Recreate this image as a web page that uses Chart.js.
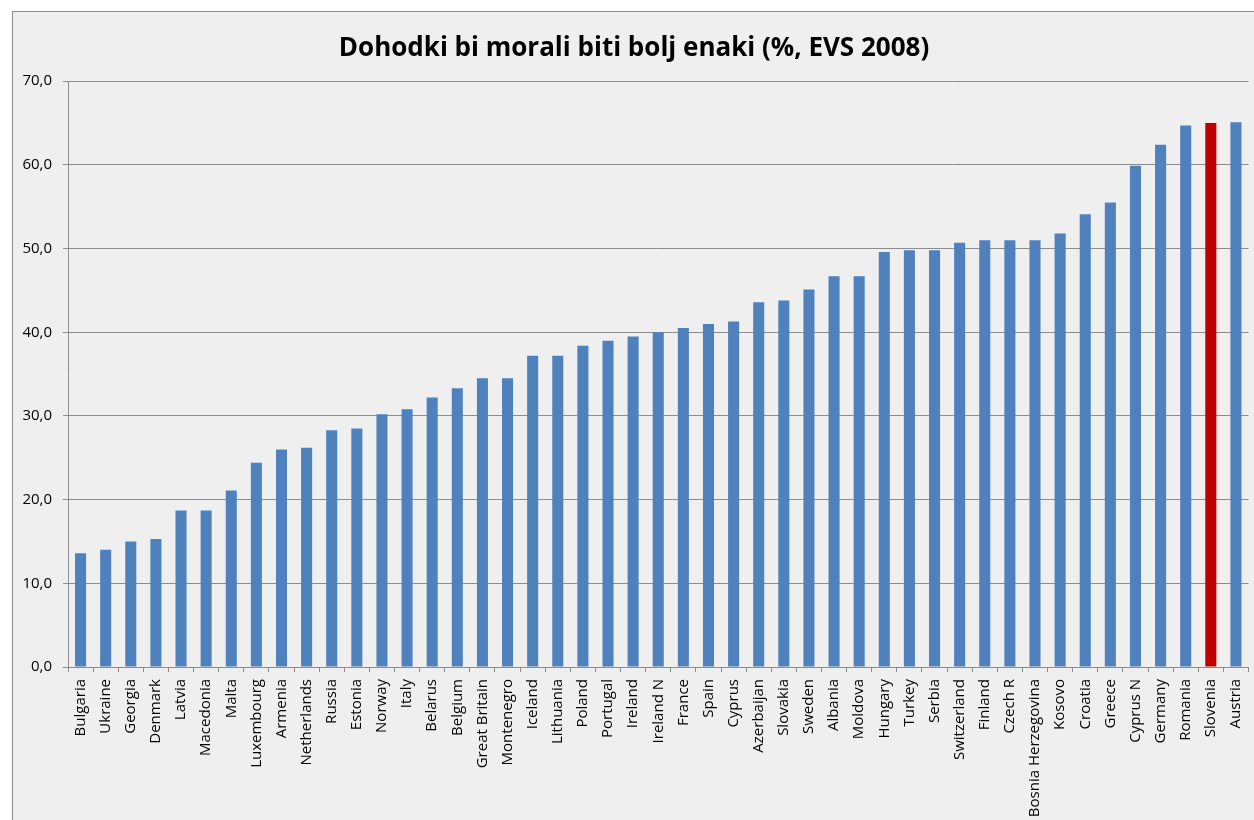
<!DOCTYPE html>
<html>
<head>
<meta charset="utf-8">
<script src="https://cdn.jsdelivr.net/npm/chart.js@4.4.0/dist/chart.umd.min.js"></script>
<style>
  html, body { margin: 0; padding: 0; background: #ffffff; overflow: hidden; }
  #frame {
    position: absolute; left: 12px; top: 11px;
    width: 1260px; height: 809px;
    background: #efefef;
    border-left: 1px solid #8c8c8c; border-top: 1px solid #8c8c8c;
  }
  #wrap { position: absolute; left: 0; top: 0; width: 1248px; height: 808px; }
</style>
</head>
<body>
<div id="frame"><div id="wrap"><canvas id="chart"></canvas></div></div>
<script>
// podatki (EVS 2008)
const countries = [
  "Bulgaria", "Ukraine", "Georgia", "Denmark", "Latvia", "Macedonia", "Malta",
  "Luxembourg", "Armenia", "Netherlands", "Russia", "Estonia", "Norway", "Italy",
  "Belarus", "Belgium", "Great Britain", "Montenegro", "Iceland", "Lithuania",
  "Poland", "Portugal", "Ireland", "Ireland N", "France", "Spain", "Cyprus",
  "Azerbaijan", "Slovakia", "Sweden", "Albania", "Moldova", "Hungary", "Turkey",
  "Serbia", "Switzerland", "Finland", "Czech R", "Bosnia Herzegovina", "Kosovo",
  "Croatia", "Greece", "Cyprus N", "Germany", "Romania", "Slovenia", "Austria"
];
const values = [
  13.6, 14.0, 15.0, 15.3, 18.7, 18.7, 21.1,
  24.4, 26.0, 26.2, 28.3, 28.5, 30.2, 30.8,
  32.2, 33.3, 34.5, 34.5, 37.2, 37.2,
  38.4, 39.0, 39.5, 40.0, 40.5, 41.0, 41.3,
  43.6, 43.8, 45.1, 46.7, 46.7, 49.6, 49.8,
  49.8, 50.7, 51.0, 51.0, 51.0, 51.8,
  54.1, 55.5, 59.9, 62.4, 64.7, 65.0, 65.1
];
const highlight = "Slovenia";
const yTicks = [0, 10, 20, 30, 40, 50, 60, 70];

const font = "'Open Sans', 'Liberation Sans', sans-serif";

const ctx = document.getElementById("chart").getContext("2d");
new Chart(ctx, {
  type: "bar",
  data: {
    labels: countries,
    datasets: [{
      data: values,
      backgroundColor: countries.map(c => c === highlight ? "#c00000" : "#4f81bd"),
      barPercentage: 0.44,
      categoryPercentage: 1.0
    }]
  },
  options: {
    responsive: true,
    maintainAspectRatio: false,
    animation: false,
    layout: { padding: { top: 9, right: 6, left: 0, bottom: 0 } },
    plugins: {
      legend: { display: false },
      tooltip: { enabled: false },
      title: {
        display: true,
        text: "Dohodki bi morali biti bolj enaki (%, EVS 2008)",
        color: "#000",
        font: { family: font, size: 26, weight: "bold", lineHeight: 1.2 },
        padding: { top: 12, bottom: 17 }
      }
    },
    scales: {
      x: {
        grid: {
          display: true,
          drawOnChartArea: false,
          drawTicks: true,
          tickLength: 5,
          color: "#8c8c8c",
          offset: true
        },
        border: { color: "#8c8c8c", width: 1 },
        ticks: {
          autoSkip: false,
          minRotation: 90,
          maxRotation: 90,
          padding: 7,
          color: "#000",
          font: { family: font, size: 15 }
        },
        afterFit: scale => { scale.height = 153; }
      },
      y: {
        min: 0,
        max: 70,
        afterBuildTicks: scale => { scale.ticks = yTicks.map(v => ({ value: v })); },
        grid: {
          color: "#8c8c8c",
          tickLength: 5,
          lineWidth: 1
        },
        border: { color: "#8c8c8c", width: 1 },
        ticks: {
          padding: 11,
          color: "#000",
          font: { family: font, size: 15 },
          callback: v => v.toFixed(1).replace(".", ",")
        },
        afterFit: scale => { scale.width = 55; }
      }
    }
  }
});
</script>
</body>
</html>
